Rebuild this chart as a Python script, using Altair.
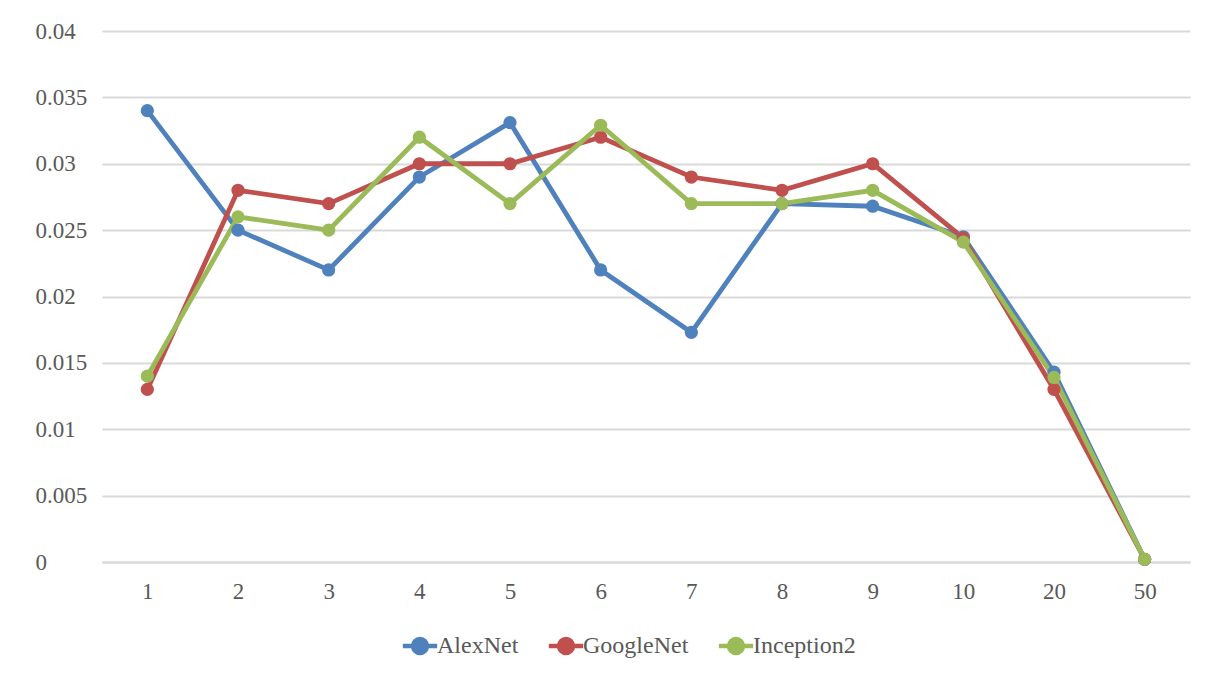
import altair as alt
import pandas as pd

categories = ["1", "2", "3", "4", "5", "6", "7", "8", "9", "10", "20", "50"]
series_names = ["AlexNet", "GoogleNet", "Inception2"]
alexnet = [0.034, 0.025, 0.022, 0.029, 0.0331, 0.022, 0.0173, 0.027, 0.0268, 0.0245, 0.0143, 0.0002]
googlenet = [0.013, 0.028, 0.027, 0.030, 0.030, 0.032, 0.029, 0.028, 0.030, 0.0244, 0.013, 0.0002]
inception2 = [0.014, 0.026, 0.025, 0.032, 0.027, 0.0329, 0.027, 0.027, 0.028, 0.0241, 0.0139, 0.0002]
colors = ["#4F81BD", "#C0504D", "#9BBB59"]
y_ticks = [0, 0.005, 0.01, 0.015, 0.02, 0.025, 0.03, 0.035, 0.04]

rows = []
for name, vals in zip(series_names, [alexnet, googlenet, inception2]):
    for i, (c, v) in enumerate(zip(categories, vals)):
        rows.append({"k": c, "value": v, "series": name, "order": i})
df = pd.DataFrame(rows)

FONT = "Liberation Serif"
GRAY = "#595959"
GRID = "#d9d9d9"
FS = 23
LFS = 24

legend_path = "M-1.6,0 L1.6,0 M0.65,0 A0.65,0.65 0 1,1 -0.65,0 A0.65,0.65 0 1,1 0.65,0 Z"

x = alt.X("k:N", sort=categories, title=None,
          scale=alt.Scale(type="point", padding=0.5),
          axis=alt.Axis(labelAngle=0, ticks=False, labelPadding=18, domainColor=GRID,
                        domainWidth=2, labelFont=FONT, labelFontSize=FS, labelColor=GRAY, grid=False))
y = alt.Y("value:Q", title=None,
          scale=alt.Scale(domain=[0, 0.04], nice=False, zero=True),
          axis=alt.Axis(values=y_ticks, format="~g", ticks=False, domain=False, labelAlign="left",
                        labelPadding=67, labelFont=FONT, labelFontSize=FS, labelColor=GRAY,
                        gridColor=GRID, gridWidth=2))
color = alt.Color("series:N", scale=alt.Scale(domain=series_names, range=colors), title=None,
                  legend=alt.Legend(orient="none", direction="horizontal", legendX=305, legendY=602,
                                    symbolType=legend_path, symbolSize=460, symbolStrokeWidth=4.5,
                                    labelFont=FONT, labelFontSize=LFS, labelColor=GRAY,
                                    columnPadding=20, symbolOffset=0, labelOffset=4))

base = alt.Chart(df).encode(x=x, y=y, color=color, order="order:Q")
lines = base.mark_line(strokeWidth=4.8)
points = base.mark_point(filled=True, size=175, opacity=1)

chart = (lines + points).properties(
    width=1088, height=531,
    autosize=alt.AutoSizeParams(type="none"),
    padding={"left": 94, "top": 23, "right": 24, "bottom": 108},
).configure(background="white", font=FONT).configure_view(stroke=None).configure_axis(
    labelFont=FONT, labelFontSize=FS, labelColor=GRAY
).configure_legend(labelFont=FONT, labelFontSize=LFS, labelColor=GRAY)

chart.save("out.html", embed_options={"renderer": "svg", "actions": False})
